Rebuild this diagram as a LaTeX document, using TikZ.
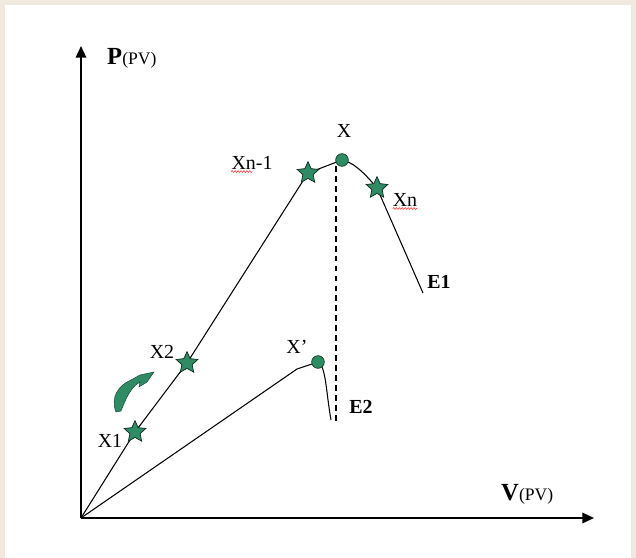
\documentclass[tikz,border=0pt]{standalone}
\usepackage{fontspec}
\setmainfont{Liberation Serif}
\usetikzlibrary{shapes.geometric,arrows.meta,decorations.pathmorphing}
\definecolor{beige}{RGB}{240,233,222}
\definecolor{gstar}{RGB}{46,139,100}
\begin{document}
\begin{tikzpicture}[x=0.03cm,y=-0.03cm,
 curve/.style={line width=0.9pt},
 axis/.style={line width=1.5pt,-{Triangle[length=10pt,width=9pt]}},
 starnode/.style={star,star points=5,star point ratio=2.1,fill=gstar,draw=black!70!gstar,line width=0.6pt,minimum size=0.68cm,inner sep=0pt},
 dotnode/.style={circle,fill=gstar,draw=black!60!gstar,line width=0.6pt,minimum size=0.38cm,inner sep=0pt},
 lbl/.style={font=\fontsize{17}{20}\selectfont,inner sep=0pt},
 blbl/.style={font=\fontsize{17}{20}\selectfont\bfseries,inner sep=0pt},
 squig/.style={red!75,line width=0.5pt,decorate,decoration={snake,amplitude=0.8pt,segment length=2.5pt}}]
\fill[beige] (0,0) rectangle (636,558);
\fill[white] (5,5) rectangle (631,558);
\useasboundingbox (0,0) rectangle (636,558);
% points
\coordinate (O) at (81,518);
\coordinate (ytop) at (81,46);
\coordinate (xend) at (594,518);
\coordinate (Sn1) at (308,173);
\coordinate (Xtop) at (342,160);
\coordinate (Sn) at (377,188);
\coordinate (E1end) at (423,293);
\coordinate (Xp) at (318,362);
\coordinate (E2mid) at (297,369);
\coordinate (E2end) at (331,420);
\coordinate (Dtop) at (336,166);
\coordinate (Dbot) at (336,422);
\coordinate (S2) at (187,363);
\coordinate (S1) at (135,432);
% axes
\draw[axis] (O) -- (ytop);
\draw[axis] (O) -- (xend);
% curves
\draw[curve] (O) -- (S1) -- (S2) -- (Sn1) -- (Xtop) .. controls (352,162) and (362,170) .. (Sn) -- (E1end);
\draw[curve] (O) -- (E2mid) .. controls (306,366) .. (Xp) .. controls (326,366) and (326,392) .. (E2end);
\draw[line width=0.9pt,dash pattern=on 5pt off 3.5pt] (Dtop) -- (Dbot);
% markers
\node[starnode] (n1) at (Sn1) {};
\node[starnode] (nn) at (Sn) {};
\node[starnode] (n2) at (S2) {};
\node[starnode] (n1b) at (S1) {};
\node[dotnode] (dx) at (Xtop) {};
\node[dotnode] (dxp) at (Xp) {};
% curved green arrow
\fill[gstar,draw=black!50!gstar,line width=0.4pt]
 (116,412) .. controls (110,397) and (119,385) .. (131,380)
 -- (140,375) -- (154,372) -- (147,382) -- (139,387) -- (140,382)
 .. controls (131,387) and (126,398) .. (121,411) -- cycle;
% labels
\node[lbl] (Lx) at (344,131) {X};
\node[lbl] (Lxn1) at (252,163) {Xn-1};
\node[lbl] (Lxn) at (405,200) {Xn};
\node[blbl] (Le1) at (439,282) {E1};
\node[blbl] (Le2) at (361,407) {E2};
\node[lbl] (Lxp) at (297,347) {X’};
\node[lbl] (Lx2) at (162,352) {X2};
\node[lbl] (Lx1) at (110,441) {X1};
\node[anchor=base west,inner sep=0pt] (Lp) at (107,64) {\fontsize{21}{24}\selectfont\bfseries P\fontsize{15}{17}\selectfont\mdseries(PV)};
\node[anchor=base west,inner sep=0pt] (Lv) at (501,500) {\fontsize{21}{24}\selectfont\bfseries V\fontsize{15}{17}\selectfont\mdseries(PV)};
% spell-check underlines
\draw[squig] ([yshift=-1.5pt]Lxn1.south west) -- ++(21,0);
\draw[squig] ([yshift=-1.5pt]Lxn.south west) -- ([yshift=-1.5pt]Lxn.south east);
\end{tikzpicture}
\end{document}
